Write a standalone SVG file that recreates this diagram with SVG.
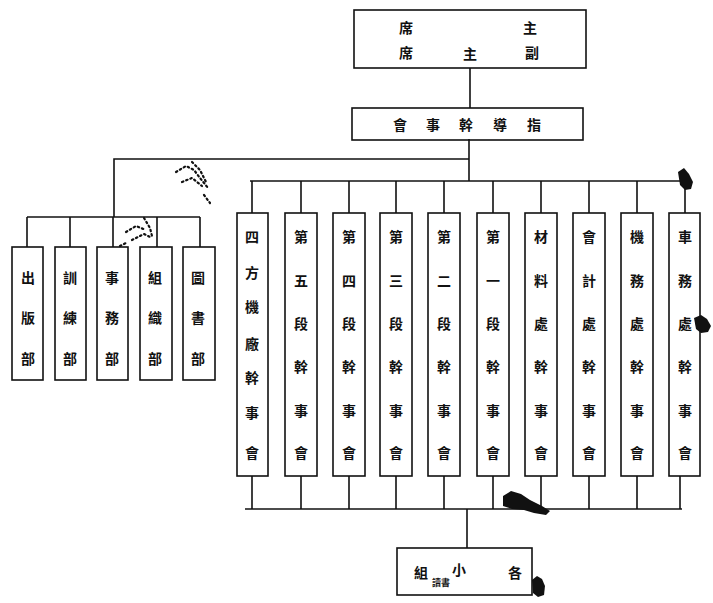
<svg xmlns="http://www.w3.org/2000/svg" width="713" height="603" viewBox="0 0 713 603">
<style>
.box{fill:none;stroke:#111;stroke-width:1.6}
.ln{fill:none;stroke:#111;stroke-width:1.6}
.t{font-family:"Noto Sans CJK TC","Noto Sans CJK SC",serif;font-size:14px;font-weight:bold;fill:#111;text-anchor:middle;dominant-baseline:central}
.s{font-size:9px}
.blot{fill:#111}
.dot{fill:none;stroke:#111;stroke-width:2.2;stroke-linecap:round;stroke-dasharray:1.5 3}
</style>
<rect width="713" height="603" fill="#fff"/>
<g id="connectors">
<path class="ln" d="M470 68V108"/>
<path class="ln" d="M469 139V181"/>
<path class="ln" d="M469 159H114V217"/>
<path class="ln" d="M27 217H200"/>
<path class="ln" d="M27 217V247M70 217V247M113 217V247M157 217V247M200 217V247"/>
<path class="ln" d="M250 181H688" stroke-width="2"/>
<path class="ln" d="M252 181V213M301 181V213M349 181V213M396 181V213M444 181V213M493 181V213M541 181V213M589 181V213M637 181V213M685 181V213"/>
<path class="ln" d="M252 476V509M301 476V509M349 476V509M396 476V509M444 476V509M493 476V509M541 476V509M589 476V509M637 476V509M680 476V509"/>
<path class="ln" d="M245 509H682" stroke-width="2"/>
<path class="ln" d="M467 509V548"/>
</g>
<g id="n-top">
<rect class="box" x="354" y="10" width="232" height="58"/>
<text class="t" x="406" y="27">席</text><text class="t" x="530" y="27">主</text>
<text class="t" x="406" y="52">席</text><text class="t" x="470" y="53">主</text><text class="t" x="532" y="52">副</text>
</g>
<g id="n-guide">
<rect class="box" x="352" y="108" width="231" height="32"/>
<text class="t" x="400" y="124">會</text><text class="t" x="433" y="124">事</text><text class="t" x="466" y="124">幹</text><text class="t" x="500" y="124">導</text><text class="t" x="534" y="124">指</text>
</g>
<g id="n-left1"><rect class="box" x="12" y="247" width="31" height="133"/><text class="t" x="28" y="277">出</text><text class="t" x="28" y="317">版</text><text class="t" x="28" y="358">部</text></g>
<g id="n-left2"><rect class="box" x="55" y="247" width="31" height="133"/><text class="t" x="70" y="277">訓</text><text class="t" x="70" y="317">練</text><text class="t" x="70" y="358">部</text></g>
<g id="n-left3"><rect class="box" x="97" y="247" width="31" height="133"/><text class="t" x="112" y="277">事</text><text class="t" x="112" y="317">務</text><text class="t" x="112" y="358">部</text></g>
<g id="n-left4"><rect class="box" x="140" y="247" width="32" height="133"/><text class="t" x="155" y="277">組</text><text class="t" x="155" y="317">織</text><text class="t" x="155" y="358">部</text></g>
<g id="n-left5"><rect class="box" x="183" y="247" width="32" height="133"/><text class="t" x="198" y="277">圖</text><text class="t" x="198" y="317">書</text><text class="t" x="198" y="358">部</text></g>
<g id="n-col1"><rect class="box" x="237" y="213" width="31" height="263"/>
<text class="t" x="252" y="236">四</text><text class="t" x="252" y="272">方</text><text class="t" x="252" y="306">機</text><text class="t" x="252" y="343">廠</text><text class="t" x="252" y="377">幹</text><text class="t" x="252" y="412">事</text><text class="t" x="252" y="452">會</text></g>
<g id="n-col2"><rect class="box" x="285" y="213" width="32" height="263"/>
<text class="t" x="301" y="236">第</text><text class="t" x="301" y="280">五</text><text class="t" x="301" y="323">段</text><text class="t" x="301" y="366">幹</text><text class="t" x="301" y="410">事</text><text class="t" x="301" y="452">會</text></g>
<g id="n-col3"><rect class="box" x="333" y="213" width="32" height="263"/>
<text class="t" x="349" y="236">第</text><text class="t" x="349" y="280">四</text><text class="t" x="349" y="323">段</text><text class="t" x="349" y="366">幹</text><text class="t" x="349" y="410">事</text><text class="t" x="349" y="452">會</text></g>
<g id="n-col4"><rect class="box" x="380" y="213" width="32" height="263"/>
<text class="t" x="396" y="236">第</text><text class="t" x="396" y="280">三</text><text class="t" x="396" y="323">段</text><text class="t" x="396" y="366">幹</text><text class="t" x="396" y="410">事</text><text class="t" x="396" y="452">會</text></g>
<g id="n-col5"><rect class="box" x="428" y="213" width="32" height="263"/>
<text class="t" x="444" y="236">第</text><text class="t" x="444" y="280">二</text><text class="t" x="444" y="323">段</text><text class="t" x="444" y="366">幹</text><text class="t" x="444" y="410">事</text><text class="t" x="444" y="452">會</text></g>
<g id="n-col6"><rect class="box" x="477" y="213" width="32" height="263"/>
<text class="t" x="493" y="236">第</text><text class="t" x="493" y="280">一</text><text class="t" x="493" y="323">段</text><text class="t" x="493" y="366">幹</text><text class="t" x="493" y="410">事</text><text class="t" x="493" y="452">會</text></g>
<g id="n-col7"><rect class="box" x="525" y="213" width="32" height="263"/>
<text class="t" x="541" y="236">材</text><text class="t" x="541" y="280">料</text><text class="t" x="541" y="323">處</text><text class="t" x="541" y="366">幹</text><text class="t" x="541" y="410">事</text><text class="t" x="541" y="452">會</text></g>
<g id="n-col8"><rect class="box" x="573" y="213" width="32" height="263"/>
<text class="t" x="589" y="236">會</text><text class="t" x="589" y="280">計</text><text class="t" x="589" y="323">處</text><text class="t" x="589" y="366">幹</text><text class="t" x="589" y="410">事</text><text class="t" x="589" y="452">會</text></g>
<g id="n-col9"><rect class="box" x="621" y="213" width="32" height="263"/>
<text class="t" x="637" y="236">機</text><text class="t" x="637" y="280">務</text><text class="t" x="637" y="323">處</text><text class="t" x="637" y="366">幹</text><text class="t" x="637" y="410">事</text><text class="t" x="637" y="452">會</text></g>
<g id="n-col10"><rect class="box" x="669" y="213" width="31" height="263"/>
<text class="t" x="685" y="236">車</text><text class="t" x="685" y="280">務</text><text class="t" x="685" y="323">處</text><text class="t" x="685" y="366">幹</text><text class="t" x="685" y="410">事</text><text class="t" x="685" y="452">會</text></g>
<g id="n-groups">
<rect class="box" x="397" y="548" width="135" height="47"/>
<text class="t" x="421" y="572">組</text><text class="t s" x="441" y="582">讀書</text><text class="t" x="459" y="569">小</text><text class="t" x="515" y="572">各</text>
</g>
<g id="scan-marks">
<path class="blot" d="M678 172l6-4 5 6 4 8-2 7-6 1-5-5z"/>
<path class="blot" d="M694 318l7-3 6 4 4 7-3 6-7 1-5-4z"/>
<path class="blot" d="M503 496l8-5 10 3 9 6 12 6 8 5-4 4-12-2-10-3-12-1-9-3z"/>
<path class="blot" d="M532 580l5-4 5 3 3 7-1 9-6 2-5-4z"/>
<path class="dot" d="M176 172l10-6 8 4 6 8 8 10M182 182l10-4 10 8M192 162l8 8 6 12M204 195l6 8"/>
<path class="dot" d="M126 232l10-6 10 4M132 240l12-6 8 4M144 218l6 10 2 8M120 246l8-4"/>
</g>
</svg>
